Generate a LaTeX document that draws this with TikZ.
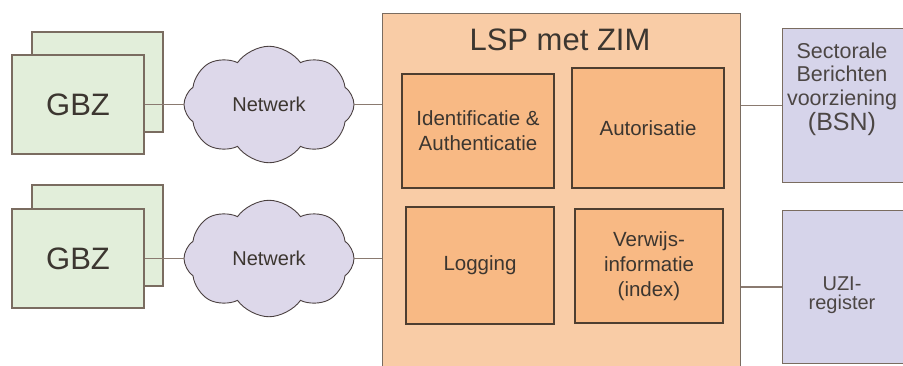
\documentclass[tikz,border=0pt]{standalone}
\usepackage{fontspec}
\setmainfont{Liberation Sans}
\usetikzlibrary{shapes.symbols}
\definecolor{gbzfill}{HTML}{E2EEDA}
\definecolor{edgec}{HTML}{7A6C60}
\definecolor{cloudfill}{HTML}{DDD8EA}
\definecolor{cloudedge}{HTML}{4A4040}
\definecolor{lspfill}{HTML}{F9CCA6}
\definecolor{modfill}{HTML}{F8B984}
\definecolor{modedge}{HTML}{4E3E30}
\definecolor{extfill}{HTML}{D6D4EA}
\definecolor{txt}{HTML}{3C3630}
\definecolor{exttxtc}{HTML}{4C4644}
\definecolor{linec}{HTML}{8A7A70}
\tikzset{
  gbzbox/.style={draw=edgec, line width=1.2pt, fill=gbzfill, minimum width=#1, inner sep=0pt},
  cloudbox/.style={cloud, cloud puffs=8, cloud puff arc=110, draw=cloudedge, line width=0.9pt, fill=cloudfill, minimum width=170pt, minimum height=90pt, inner sep=0pt, text=txt, font=\fontsize{20}{24}\selectfont},
  modbox/.style={draw=modedge, line width=1.1pt, fill=modfill, inner sep=0pt, text=txt, align=center, font=\fontsize{20.5}{25}\selectfont},
  extbox/.style={draw=edgec, line width=1.2pt, fill=extfill, inner sep=0pt},
  conn/.style={draw=linec, line width=1.1pt},
  bigtxt/.style={text=txt, font=\fontsize{31}{36}\selectfont},
  exttxt/.style={text=exttxtc, align=center, inner sep=0pt}
}
\begin{document}
\begin{tikzpicture}[x=1pt,y=-1pt]
\clip (0,0) rectangle (903,365);
\fill[white] (0,0) rectangle (903,365);
% GBZ top
\node[gbzbox=131pt, minimum height=100pt] (g1b) at (97.5,82) {};
\node[gbzbox=132pt, minimum height=99pt, bigtxt] (g1) at (78,104.5) {GBZ};
% GBZ bottom
\node[gbzbox=131pt, minimum height=101pt] (g2b) at (97.5,235.5) {};
\node[gbzbox=132pt, minimum height=99pt, bigtxt] (g2) at (78,258.5) {GBZ};
% clouds
\node[cloudbox] (c1) at (269,104.5) {Netwerk};
\node[cloudbox] (c2) at (269,258.5) {Netwerk};
% LSP
\node[draw=edgec, line width=1.2pt, fill=lspfill, minimum width=358pt, minimum height=400pt, anchor=north west, inner sep=0pt] (lsp) at (382,13) {};
\node[bigtxt, anchor=center] (lsptitle) at (560,40) {LSP met ZIM};
\node[modbox, minimum width=152pt, minimum height=114pt] (ident) at (478,131) {Identificatie \&\\Authenticatie};
\node[modbox, minimum width=152pt, minimum height=120pt] (autor) at (648,128) {Autorisatie};
\node[modbox, minimum width=148pt, minimum height=117pt] (logg) at (480,265.5) {Logging};
\node[modbox, minimum width=148pt, minimum height=114pt] (verw) at (649,266) {Verwijs-\\informatie\\(index)};
% external
\node[extbox, minimum width=130pt, minimum height=154pt, anchor=north west] (sect) at (782,28) {};
\node[exttxt, font=\fontsize{21.5}{23.5}\selectfont] (secttxt) at (842,76) {Sectorale\\Berichten\\voorziening};
\node[exttxt, font=\fontsize{25}{28}\selectfont] (bsn) at (842,124) {(BSN)};
\node[extbox, minimum width=130pt, minimum height=153pt, anchor=north west] (uzi) at (782,210) {};
\node[exttxt, font=\fontsize{20}{19}\selectfont] (uzitxt) at (842,295) {UZI-\\register};
% connectors
\draw[conn] (g1.east) -- (c1.west);
\draw[conn] (g2.east) -- (c2.west);
\draw[conn] (c1.east) -- (lsp.west |- c1.east);
\draw[conn] (c2.east) -- (lsp.west |- c2.east);
\draw[conn] (lsp.east |- sect.west) -- (sect.west);
\draw[conn] (lsp.east |- 0,287) coordinate (u0) -- (uzi.west |- u0);
\end{tikzpicture}
\end{document}
